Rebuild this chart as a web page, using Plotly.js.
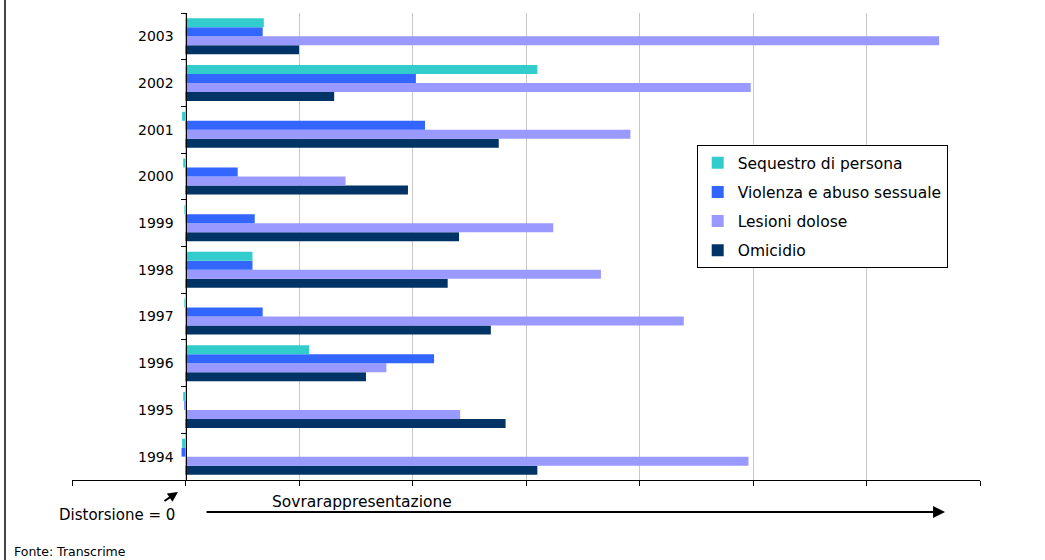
<!DOCTYPE html>
<html>
<head>
<meta charset="utf-8">
<script src="https://cdn.plot.ly/plotly-3.0.1.min.js"></script>
<style>html,body{margin:0;padding:0;background:#fff;}#chart{width:1045px;height:560px;}</style>
</head>
<body>
<div id="chart"></div>
<script>
const years = ['1994','1995','1996','1997','1998','1999','2000','2001','2002','2003'];
const sequestro = [-0.03, -0.02, 1.09, -0.01, 0.59, -0.01, -0.02, -0.03, 3.10, 0.69];
const violenza  = [-0.035, -0.01, 2.19, 0.68, 0.59, 0.61, 0.46, 2.11, 2.03, 0.68];
const lesioni   = [4.96, 2.42, 1.77, 4.39, 3.66, 3.24, 1.41, 3.92, 4.98, 6.64];
const omicidio  = [3.10, 2.82, 1.59, 2.69, 2.31, 2.41, 1.96, 2.76, 1.31, 1.00];

const seriesNames = ['Omicidio','Lesioni dolose','Violenza e abuso sessuale','Sequestro di persona'];
const seriesData = [omicidio, lesioni, violenza, sequestro];
const seriesColors = ['#003366','#9999FF','#3366FF','#33CCCC'];

const FONT = 'DejaVu Sans, Verdana, sans-serif';

const traces = seriesNames.map((n, i) => ({
  type: 'bar',
  orientation: 'h',
  name: n,
  y: years,
  x: seriesData[i],
  marker: {color: seriesColors[i], line: {width: 0}},
  legendgroup: 'g' + i,
  legendrank: 1000 - i
}));

const layout = {
  width: 1045, height: 560,
  margin: {l: 72, r: 65, t: 13, b: 80},
  paper_bgcolor: '#fff', plot_bgcolor: '#fff',
  barmode: 'group', bargap: 0.23, bargroupgap: 0,
  font: {family: FONT, size: 14, color: '#000'},
  showlegend: true,
  legend: {
    x: 0.688, y: 0.717, xanchor: 'left', yanchor: 'top',
    traceorder: 'grouped', tracegroupgap: 6,
    entrywidth: 226, entrywidthmode: 'pixels',
    bordercolor: '#000', borderwidth: 1, bgcolor: '#fff',
    font: {family: FONT, size: 15.5, color: '#000'}
  },
  xaxis: {
    range: [-1, 7], dtick: 1, tick0: 0,
    showgrid: true, gridcolor: '#c8c8c8', gridwidth: 1,
    zeroline: false,
    showline: true, linecolor: '#000', linewidth: 1,
    ticks: 'outside', ticklen: 5, tickcolor: '#000',
    showticklabels: false, fixedrange: true
  },
  yaxis: {
    type: 'category',
    anchor: 'free', position: 0.125,
    showline: true, linecolor: '#000', linewidth: 1.5,
    ticks: 'outside', tickson: 'boundaries', ticklen: 5, tickcolor: '#000',
    ticklabelstandoff: 9,
    showgrid: false, zeroline: false,
    tickfont: {family: FONT, size: 14, color: '#000'},
    fixedrange: true
  },
  shapes: [
    {type: 'line', xref: 'paper', yref: 'paper',
     x0: -0.0738, x1: -0.0738, y0: 1.03, y1: -0.175,
     line: {color: '#444', width: 2}}
  ],
  annotations: [
    {xref: 'paper', yref: 'paper', x: 0.9615, y: -0.0685,
     ax: -740, ay: 0, text: '', showarrow: true,
     arrowhead: 2, arrowsize: 1.2, arrowwidth: 2, arrowcolor: '#000'},
    {xref: 'paper', yref: 'paper', x: 0.1167, y: -0.0257,
     ax: -15, ay: 10, text: '', showarrow: true,
     arrowhead: 2, arrowsize: 1, arrowwidth: 2, arrowcolor: '#000'},
    {xref: 'paper', yref: 'paper', x: 0.0496, y: -0.0749,
     xanchor: 'center', yanchor: 'middle', showarrow: false,
     text: 'Distorsione = 0', font: {family: FONT, size: 15, color: '#000'}},
    {xref: 'paper', yref: 'paper', x: 0.2176, y: -0.0471,
     xanchor: 'left', yanchor: 'middle', showarrow: false,
     text: 'Sovrarappresentazione', font: {family: FONT, size: 15.5, color: '#000'}},
    {xref: 'paper', yref: 'paper', x: -0.066, y: -0.154,
     xanchor: 'left', yanchor: 'middle', showarrow: false,
     text: 'Fonte: Transcrime', font: {family: FONT, size: 12.5, color: '#000'}}
  ]
};

Plotly.newPlot('chart', traces, layout, {displayModeBar: false, staticPlot: true});
</script>
</body>
</html>
